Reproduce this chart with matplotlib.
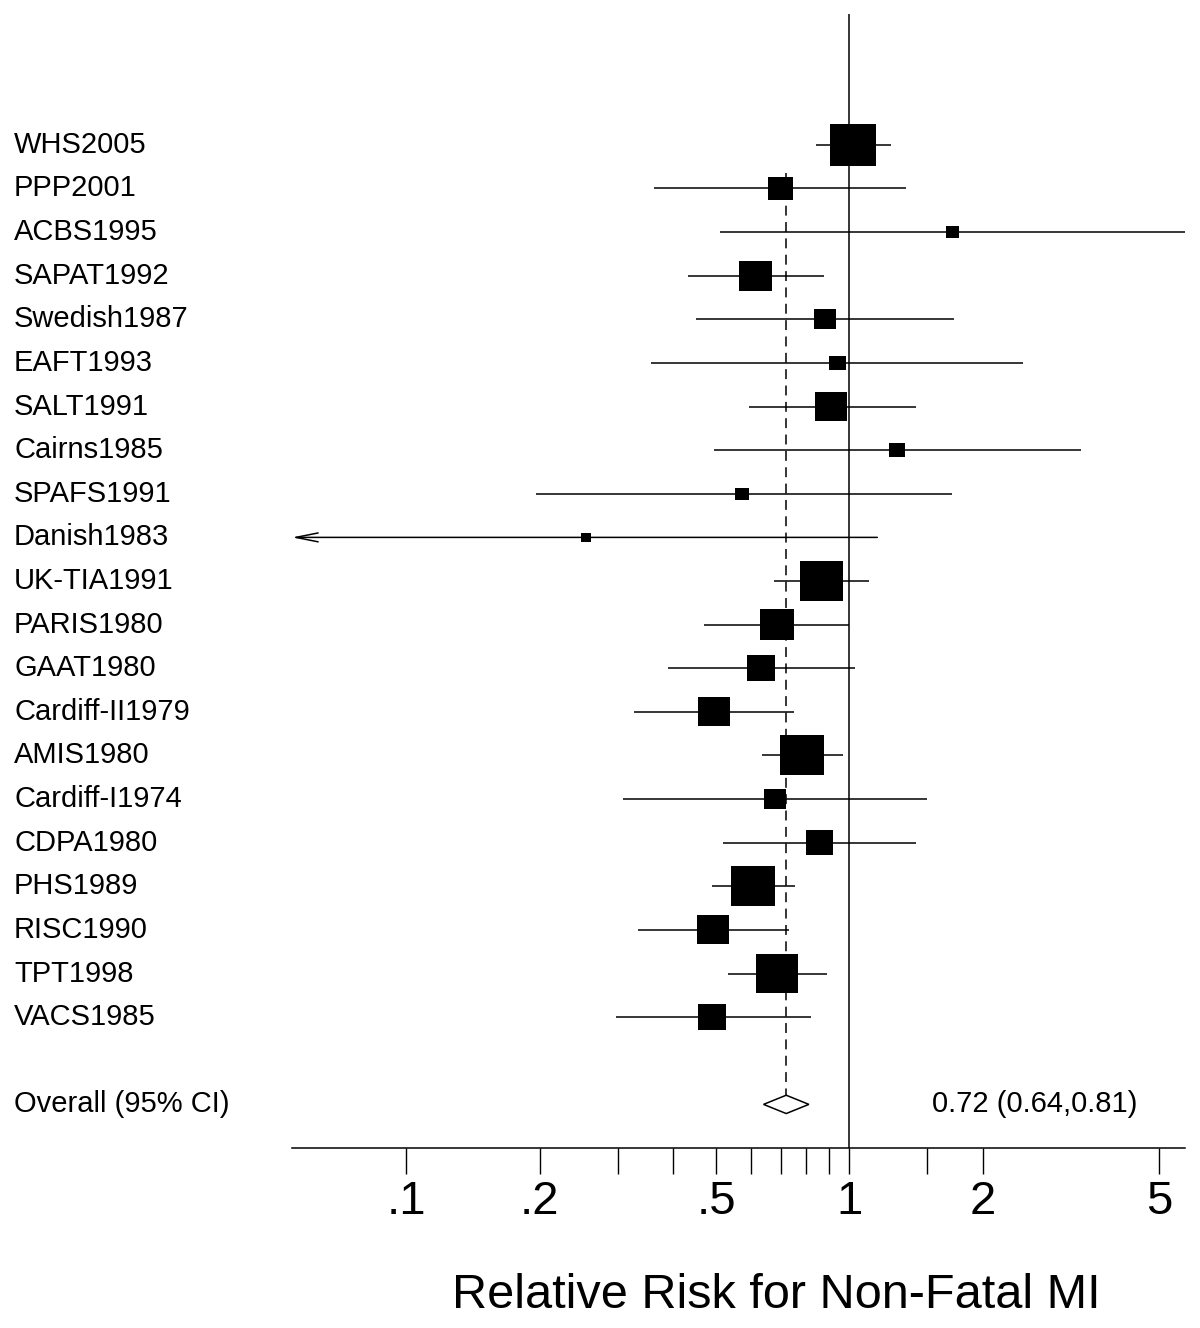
import numpy as np
import matplotlib; matplotlib.use("Agg")
import matplotlib.pyplot as plt
from matplotlib.patches import Polygon
from matplotlib.transforms import blended_transform_factory
from matplotlib.ticker import NullFormatter

plt.rcParams["font.family"] = ["Liberation Sans", "DejaVu Sans"]

studies = ["WHS2005", "PPP2001", "ACBS1995", "SAPAT1992", "Swedish1987", "EAFT1993",
           "SALT1991", "Cairns1985", "SPAFS1991", "Danish1983", "UK-TIA1991", "PARIS1980",
           "GAAT1980", "Cardiff-II1979", "AMIS1980", "Cardiff-I1974", "CDPA1980", "PHS1989",
           "RISC1990", "TPT1998", "VACS1985"]
rr = [1.02, 0.70, 1.71, 0.615, 0.88, 0.94, 0.91, 1.28, 0.572, 0.255, 0.865, 0.685,
      0.631, 0.495, 0.78, 0.678, 0.856, 0.605, 0.492, 0.685, 0.49]
lo = [0.84, 0.363, 0.51, 0.433, 0.451, 0.357, 0.593, 0.495, 0.196, 0.05, 0.675, 0.47,
      0.39, 0.327, 0.634, 0.309, 0.518, 0.49, 0.334, 0.532, 0.297]
hi = [1.24, 1.34, 5.72, 0.874, 1.72, 2.46, 1.41, 3.34, 1.70, 1.156, 1.109, 1.00,
      1.03, 0.748, 0.969, 1.497, 1.414, 0.752, 0.729, 0.888, 0.817]
weight = [10.7, 3.2, 0.9, 5.5, 2.4, 1.3, 5.2, 1.3, 0.9, 0.5, 9.4, 5.9,
          4.0, 5.2, 9.8, 2.4, 3.7, 9.8, 5.2, 8.9, 4.0]
overall = (0.72, 0.64, 0.81)
overall_label = "Overall (95% CI)"
overall_text = "0.72 (0.64,0.81)"
major_ticks = [0.1, 0.2, 0.5, 1, 2, 5]
major_labels = [".1", ".2", ".5", "1", "2", "5"]
minor_ticks = [0.3, 0.4, 0.6, 0.7, 0.8, 0.9, 1.5]
xlabel = "Relative Risk for Non-Fatal MI"

W, H = 1200, 1328
fig = plt.figure(figsize=(W / 100, H / 100), dpi=100)
ax = fig.add_axes([292 / W, (H - 1148) / H, (1185 - 292) / W, (1148 - 14) / H])
ax.set_xscale("log")
xmin, xmax = 0.0552, 5.72
ax.set_xlim(xmin, xmax)
ax.set_ylim(23, -3)
tr = blended_transform_factory(ax.transAxes, ax.transData)

n = len(studies)
rows = np.arange(n)
orow = n + 1

# CI lines (arrow where the interval runs off the scale)
for i in range(n):
    if lo[i] < xmin:
        ax.annotate("", xy=(xmin, rows[i]), xytext=(hi[i], rows[i]),
                    arrowprops=dict(arrowstyle="->,head_length=1.6,head_width=0.32",
                                    lw=1.1, color="black", shrinkA=0, shrinkB=0,
                                    mutation_scale=10))
    else:
        ax.hlines(rows[i], lo[i], min(hi[i], xmax), color="black", lw=1.1)

# weighted boxes
box = [(-1.1, -1), (1.1, -1), (1.1, 1), (-1.1, 1), (-1.1, -1)]
side = 10.12 * np.sqrt(np.array(weight))
ax.scatter(rr, rows, s=side ** 2, marker=box, color="black", linewidths=0, zorder=3)

# reference lines
ax.axvline(1, color="black", lw=1.1)
ax.vlines(overall[0], 0.64, orow, color="black", lw=1.1, linestyles=(0, (6.5, 4.2)))

# overall diamond
o, ol, oh = overall
ax.add_patch(Polygon([(ol, orow), (o, orow - 0.21), (oh, orow), (o, orow + 0.21)],
                     closed=True, facecolor="white", edgecolor="black", lw=1.1, zorder=4))
ax.text((932 - 292) / (1185 - 292), orow, overall_text, transform=tr,
        fontsize=21, va="center", ha="left")

# study labels
lx = -(292 - 14) / (1185 - 292)
for i, s in enumerate(studies):
    ax.text(lx, rows[i], s, fontsize=21, ha="left", va="center", transform=tr, clip_on=False)
ax.text(lx, orow, overall_label, fontsize=21, ha="left", va="center", transform=tr, clip_on=False)

# axes styling
for sp in ["left", "right", "top"]:
    ax.spines[sp].set_visible(False)
ax.spines["bottom"].set_linewidth(1.1)
ax.set_yticks([])
ax.set_xticks(major_ticks)
ax.set_xticklabels(major_labels, fontsize=34)
ax.set_xticks(minor_ticks, minor=True)
ax.xaxis.set_minor_formatter(NullFormatter())
ax.tick_params(axis="x", which="both", direction="out", length=19, width=1.0, pad=4)

fig.text(776 / W, (H - 1308) / H, xlabel, fontsize=35, ha="center", va="baseline")

fig.savefig("out.png", dpi=100)
